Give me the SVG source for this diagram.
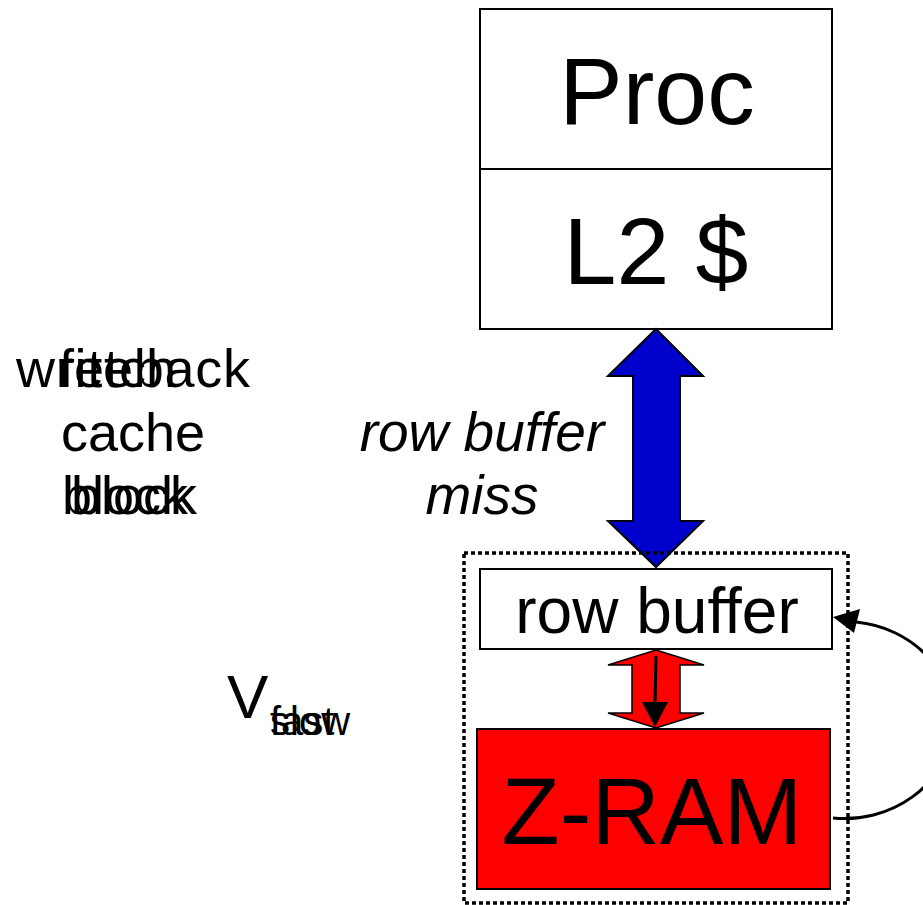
<svg xmlns="http://www.w3.org/2000/svg" width="923" height="905" viewBox="0 0 923 905">
<style>
  text { font-family: "Liberation Sans", Arial, sans-serif; fill: #000; }
  .box { fill: #fff; stroke: #000; stroke-width: 2; }
  .big { font-size: 95px; text-anchor: middle; }
  .side { font-size: 54px; }
  .ital { font-size: 55px; font-style: italic; text-anchor: middle; }
  .conn { fill: none; stroke: #000; stroke-width: 3; }
</style>
<rect width="923" height="905" fill="#fff"/>

<g id="proc-l2">
  <rect class="box" x="480" y="9" width="352" height="320"/>
  <line x1="480" y1="169" x2="832" y2="169" stroke="#000" stroke-width="2"/>
  <text class="big" x="657" y="124">Proc</text>
  <text class="big" x="656" y="284">L2 $</text>
</g>

<g id="row-buffer">
  <rect class="box" x="480" y="569" width="352" height="80"/>
  <text x="657" y="633" font-size="64" text-anchor="middle">row buffer</text>
</g>

<g id="zram">
  <rect x="477" y="729" width="353" height="160" fill="#ff0000" stroke="#000" stroke-width="2"/>
  <text class="big" x="652" y="844">Z-RAM</text>
</g>

<g id="labels">
  <text class="side" x="16" y="387" textLength="234" lengthAdjust="spacing">writeback</text>
  <text class="side" x="59" y="387">fetch</text>
  <text class="side" x="61" y="451">cache</text>
  <text class="side" x="62" y="514">block</text>
  <text class="side" x="71" y="514">block</text>
  <text class="ital" x="482" y="451">row buffer</text>
  <text class="ital" x="482" y="514">miss</text>
  <text x="227" y="718" font-size="62">V</text>
  <text x="270" y="735" font-size="40">fast</text>
  <text x="270" y="735" font-size="40">slow</text>
</g>

<g id="connectors">
  <polygon points="656,329 703,376 680,376 680,521 703,521 656,567 608,521 633,521 633,376 608,376" fill="#0000cc" stroke="#000" stroke-width="2" stroke-linejoin="miter"/>
  <polygon points="656,650 704,665 680,665 680,713 704,713 656,728 608,713 632,713 632,665 608,665" fill="#ff0000" stroke="#000" stroke-width="1.5"/>
  <line class="conn" x1="656" y1="656" x2="655" y2="704"/>
  <polygon points="642,702 668,702 655,727" fill="#000"/>
  <path class="conn" d="M 833 818 A 108 98 0 0 0 856 622"/>
  <polygon points="833,617 860,609 854,633" fill="#000"/>
</g>

<g id="memory-boundary">
  <rect x="464" y="553" width="384" height="350" fill="none" stroke="#000" stroke-width="3.5" stroke-dasharray="4 3"/>
</g>
</svg>
